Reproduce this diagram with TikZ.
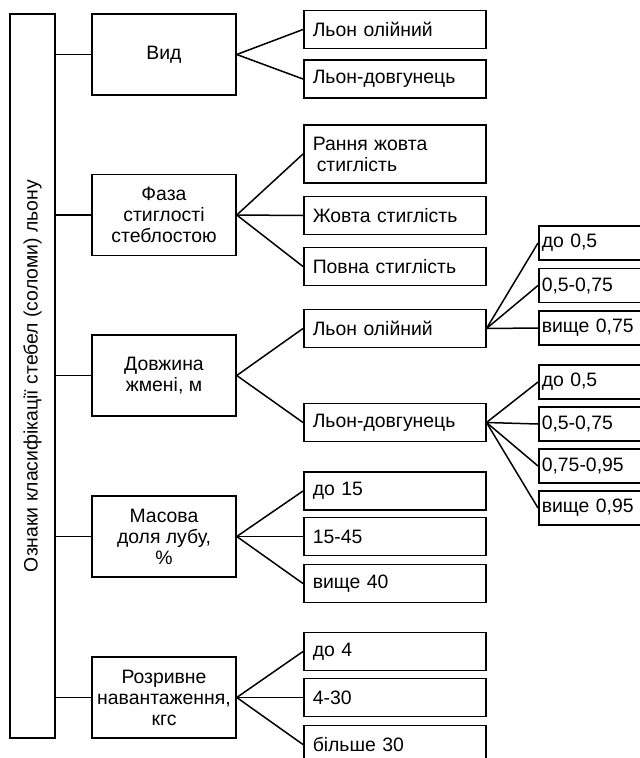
\documentclass[tikz,border=0pt]{standalone}
\usepackage{fontspec}
\setmainfont{Liberation Sans}

\begin{document}
\begin{tikzpicture}[x=1pt,y=-1pt,line width=1.5pt,font=\fontsize{19.4}{21}\selectfont]
\tikzstyle{group}=[draw,minimum width=144pt,minimum height=81pt,align=center,inner sep=2pt]
\tikzstyle{item}=[draw,anchor=west,text width=164pt,inner xsep=9pt,inner ysep=2pt,minimum height=38pt,align=left]
\tikzstyle{value}=[draw,anchor=west,text width=154pt,inner xsep=3pt,inner ysep=2pt,minimum height=34pt,align=left]
\clip (0,0) rectangle (640,758);
\node[draw,rotate=90,minimum width=724pt,minimum height=45pt,inner sep=0pt] (main) at (32.5,376) {Ознаки класифікації стебел (соломи) льону};
\foreach \name/\point/\txt in {
	vid/{164,54.5}/{Вид},
	faza/{164,215}/{Фаза\\стиглості\\стеблостою},
	dov/{164,375.5}/{Довжина\\жмені, м},
	mas/{164,536.5}/{Масова\\доля лубу,\\\%},
	roz/{164,697.5}/{Розривне\\навантаження,\\кгс}}
	\node[group] (\name) at (\point) {\txt};
\foreach \name/\point/\txt in {
	v1/{303,29.5}/{Льон олійний},
	v2/{303,79}/{Льон-довгунець},
	f2/{303,215.5}/{Жовта стиглість},
	f3/{303,266.5}/{Повна стиглість},
	d1/{303,328.5}/{Льон олійний},
	d2/{303,422.5}/{Льон-довгунець},
	m1/{303,491}/{до 15},
	m2/{303,536.5}/{15-45},
	m3/{303,583.5}/{вище 40},
	r1/{303,651.5}/{до 4},
	r2/{303,697.5}/{4-30},
	r3/{303,744.5}/{більше 30}}
	\node[item] (\name) at (\point) {\txt};
\node[item,minimum height=58pt] (f1) at (303,154) {Рання жовта\\\hspace*{4pt}стиглість};
\foreach \name/\point/\txt in {
	o1/{538,243}/{до 0,5},
	o2/{538,285.5}/{0,5-0,75},
	o3/{538,328}/{вище 0,75},
	g1/{538,382}/{до 0,5},
	g2/{538,424}/{0,5-0,75},
	g3/{538,466}/{0,75-0,95},
	g4/{538,508}/{вище 0,95}}
	\node[value] (\name) at (\point) {\txt};
	\draw (main.south |- vid.west) -- (vid.west);
	\draw (main.south |- faza.west) -- (faza.west);
	\draw (main.south |- dov.west) -- (dov.west);
	\draw (main.south |- mas.west) -- (mas.west);
	\draw (main.south |- roz.west) -- (roz.west);
	\draw (vid.east) -- (v1.west);
	\draw (vid.east) -- (v2.west);
	\draw (faza.east) -- (f1.west);
	\draw (faza.east) -- (f2.west);
	\draw (faza.east) -- (f3.west);
	\draw (dov.east) -- (d1.west);
	\draw (dov.east) -- (d2.west);
	\draw (mas.east) -- (m1.west);
	\draw (mas.east) -- (m2.west);
	\draw (mas.east) -- (m3.west);
	\draw (roz.east) -- (r1.west);
	\draw (roz.east) -- (r2.west);
	\draw (roz.east) -- (r3.west);
	\draw (d1.east) -- (o1.west);
	\draw (d1.east) -- (o2.west);
	\draw (d1.east) -- (o3.west);
	\draw (d2.east) -- (g1.west);
	\draw (d2.east) -- (g2.west);
	\draw (d2.east) -- (g3.west);
	\draw (d2.east) -- (g4.west);
\end{tikzpicture}
\end{document}
